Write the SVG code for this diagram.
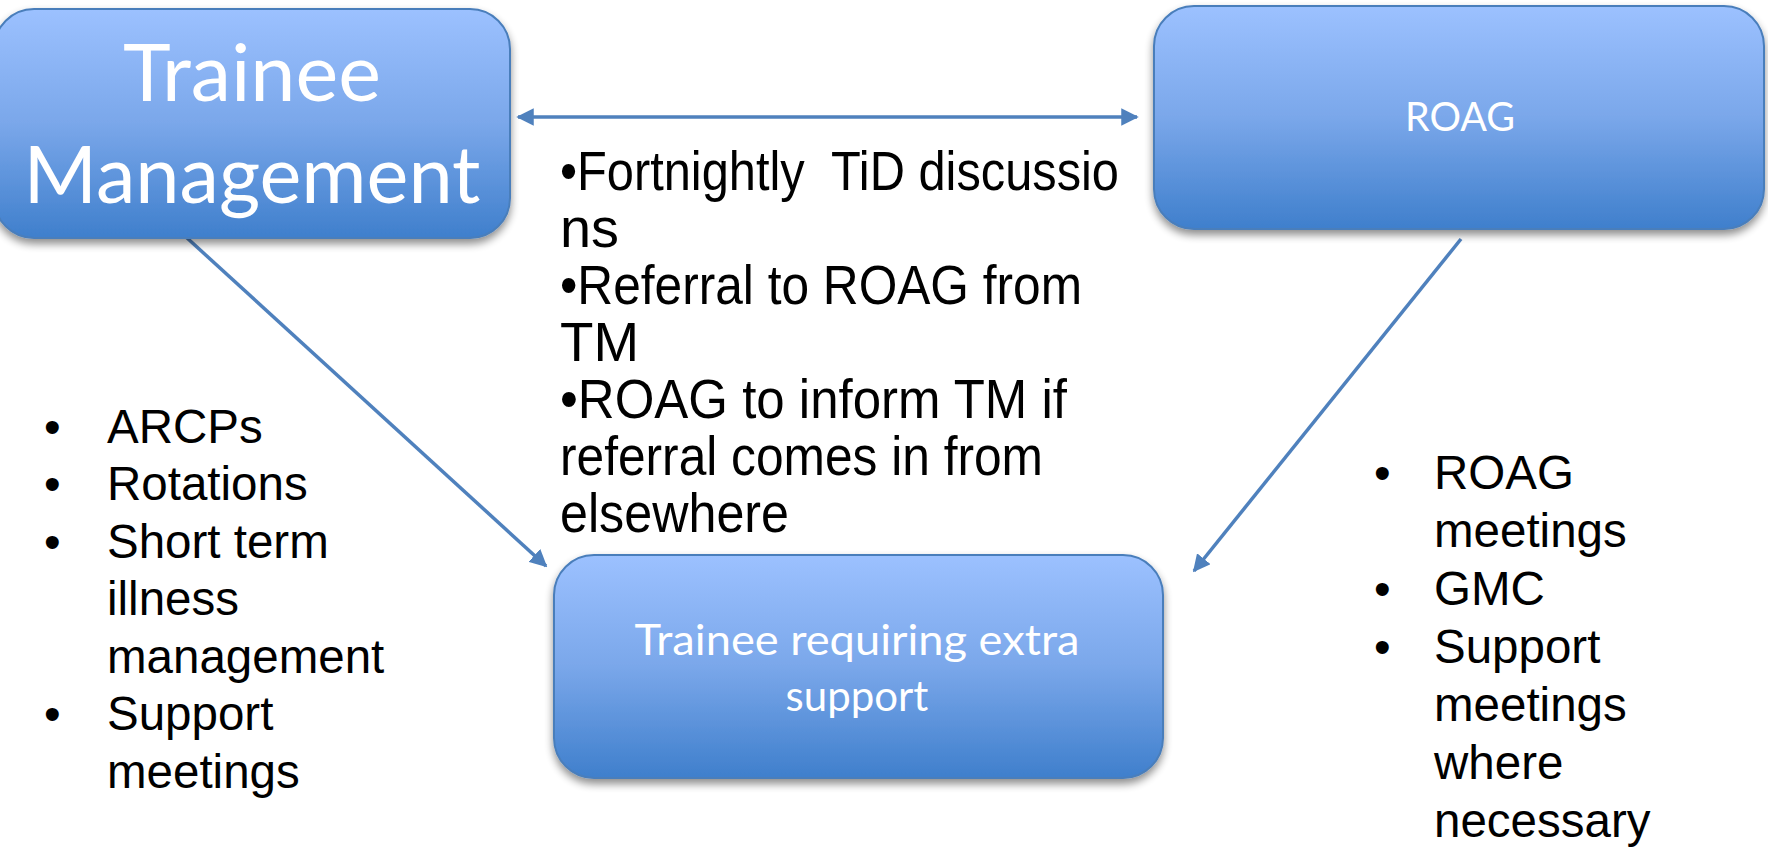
<svg xmlns="http://www.w3.org/2000/svg" width="1768" height="850" viewBox="0 0 1768 850">
<defs>
<linearGradient id="g" x1="0" y1="0" x2="0" y2="1">
<stop offset="0" stop-color="#9CC1FF"/>
<stop offset="0.5" stop-color="#7AA7EA"/>
<stop offset="1" stop-color="#3F7FCC"/>
</linearGradient>
<filter id="sh" x="-10%" y="-10%" width="120%" height="130%">
<feGaussianBlur in="SourceAlpha" stdDeviation="4"/>
<feOffset dx="0" dy="5" result="b"/>
<feComponentTransfer><feFuncA type="linear" slope="0.45"/></feComponentTransfer>
<feMerge><feMergeNode/><feMergeNode in="SourceGraphic"/></feMerge>
</filter>
<marker id="ah" viewBox="0 0 10 10" refX="9" refY="5" markerWidth="5" markerHeight="5" orient="auto-start-reverse">
<path d="M0,0 L10,5 L0,10 z" fill="#4F81BD"/>
</marker>
</defs>
<style>
.box{fill:url(#g);stroke:#4A7EBB;stroke-width:2;filter:url(#sh)}
.lbl{font-family:Lato,"Open Sans","Liberation Sans",sans-serif;fill:#fff;text-anchor:middle}
.txt{font-family:"Liberation Sans",Arial,sans-serif;fill:#000;font-size:47.5px}
.ctr{font-family:"Liberation Sans",Arial,sans-serif;fill:#000;font-size:55px}
.con{stroke:#4F81BD;stroke-width:3.5;fill:none}
</style>
<rect width="1768" height="850" fill="#fff"/>
<g id="connectors">
<line class="con" x1="518" y1="117" x2="1137" y2="117" marker-start="url(#ah)" marker-end="url(#ah)"/>
<line class="con" x1="186" y1="237" x2="546" y2="566" marker-end="url(#ah)"/>
<line class="con" x1="1461" y1="239" x2="1194" y2="571" marker-end="url(#ah)"/>
</g>
<g id="node-tm">
<rect class="box" x="-6" y="9" width="516" height="229" rx="40"/>
<text class="lbl" x="252" y="101" font-size="80" textLength="258" lengthAdjust="spacingAndGlyphs">Trainee</text>
<text class="lbl" x="252" y="203" font-size="80" textLength="457" lengthAdjust="spacingAndGlyphs">Management</text>
</g>
<g id="node-roag">
<rect class="box" x="1154" y="6" width="610" height="223" rx="40"/>
<text class="lbl" x="1460" y="131" font-size="40" textLength="110" lengthAdjust="spacingAndGlyphs">ROAG</text>
</g>
<g id="node-support">
<rect class="box" x="554" y="555" width="609" height="223" rx="40"/>
<text class="lbl" x="857" y="655" font-size="42" textLength="445" lengthAdjust="spacingAndGlyphs">Trainee requiring extra</text>
<text class="lbl" x="857" y="711" font-size="42">support</text>
</g>
<g id="center-text" class="ctr">
<text x="560" y="190" textLength="559" lengthAdjust="spacingAndGlyphs">•Fortnightly&#160; TiD discussio</text>
<text x="560" y="247" textLength="59" lengthAdjust="spacingAndGlyphs">ns</text>
<text x="560" y="304" textLength="522" lengthAdjust="spacingAndGlyphs">•Referral to ROAG from</text>
<text x="560" y="361" textLength="79" lengthAdjust="spacingAndGlyphs">TM</text>
<text x="560" y="418" textLength="507" lengthAdjust="spacingAndGlyphs">•ROAG to inform TM if</text>
<text x="560" y="475" textLength="483" lengthAdjust="spacingAndGlyphs">referral comes in from</text>
<text x="560" y="532" textLength="229" lengthAdjust="spacingAndGlyphs">elsewhere</text>
</g>
<g id="left-list" class="txt">
<text x="44" y="443">•</text><text x="107" y="443">ARCPs</text>
<text x="44" y="500">•</text><text x="107" y="500">Rotations</text>
<text x="44" y="558">•</text><text x="107" y="558">Short term</text>
<text x="107" y="615">illness</text>
<text x="107" y="673">management</text>
<text x="44" y="730">•</text><text x="107" y="730">Support</text>
<text x="107" y="788">meetings</text>
</g>
<g id="right-list" class="txt">
<text x="1374" y="489">•</text><text x="1434" y="489">ROAG</text>
<text x="1434" y="547">meetings</text>
<text x="1374" y="605">•</text><text x="1434" y="605">GMC</text>
<text x="1374" y="663">•</text><text x="1434" y="663">Support</text>
<text x="1434" y="721">meetings</text>
<text x="1434" y="779">where</text>
<text x="1434" y="837">necessary</text>
</g>
</svg>
